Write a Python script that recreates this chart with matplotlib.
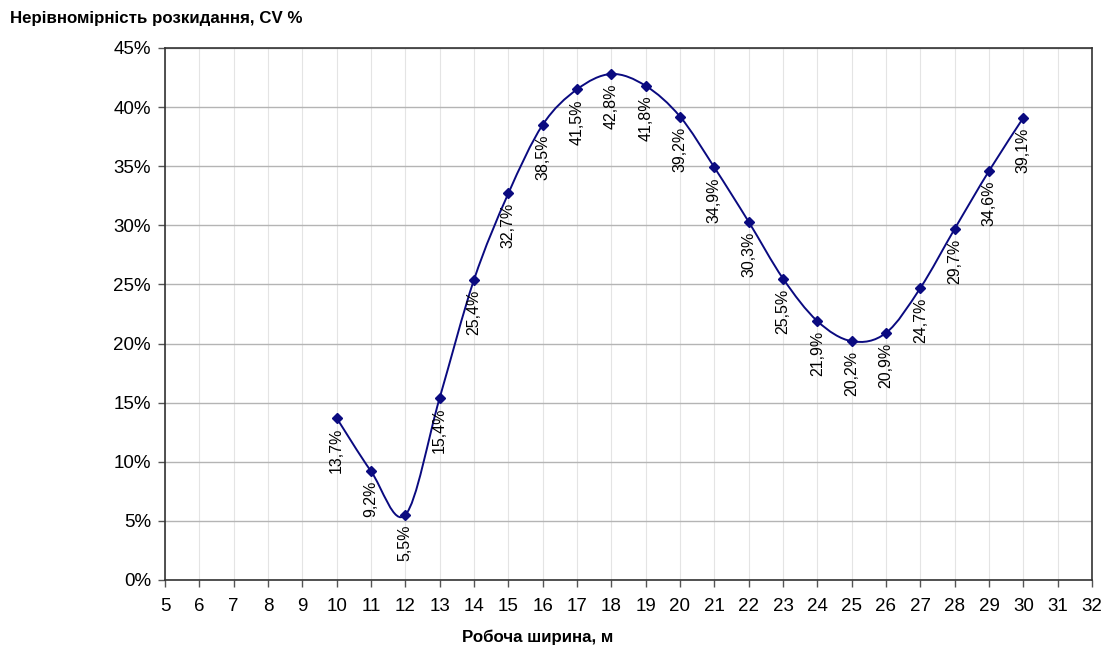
import numpy as np
import matplotlib.pyplot as plt
from matplotlib.path import Path
from matplotlib.patches import PathPatch
from matplotlib.ticker import MultipleLocator, FuncFormatter

plt.rcParams['font.family'] = ['Liberation Sans', 'DejaVu Sans']

# Робоча ширина (м) та коефіцієнт варіації (%)
width_m = [10, 11, 12, 13, 14, 15, 16, 17, 18, 19, 20,
           21, 22, 23, 24, 25, 26, 27, 28, 29, 30]
cv_pct = [13.7, 9.2, 5.5, 15.4, 25.4, 32.7, 38.5, 41.5, 42.8, 41.8, 39.2,
          34.9, 30.3, 25.5, 21.9, 20.2, 20.9, 24.7, 29.7, 34.6, 39.1]

x = np.array(width_m, dtype=float)
y = np.array(cv_pct) / 100.0

navy = '#0a0a80'

fig = plt.figure(figsize=(11.12, 6.5), dpi=100)
ax = fig.add_axes([165 / 1112, 70 / 650, (1092 - 165) / 1112, (580 - 48) / 650])

# smoothed line like Excel: Bezier segments through the points
pts = np.column_stack([x, y])
ext = np.vstack([pts[0], pts, pts[-1]])
verts = [tuple(pts[0])]
codes = [Path.MOVETO]
for i in range(len(pts) - 1):
    p0, p1, p2, p3 = ext[i], ext[i + 1], ext[i + 2], ext[i + 3]
    c1 = p1 + (p2 - p0) / 6.0
    c2 = p2 - (p3 - p1) / 6.0
    verts += [tuple(c1), tuple(c2), tuple(p2)]
    codes += [Path.CURVE4] * 3
ax.add_patch(PathPatch(Path(verts, codes), facecolor='none', edgecolor=navy,
                       lw=1.4, zorder=3))
ax.plot(x, y, ls='none', marker='D', ms=5, color=navy, zorder=4)

for xi, yi, v in zip(x, y, cv_pct):
    lbl = f'{v:.1f}%'.replace('.', ',')
    ax.annotate(lbl, (xi, yi), xytext=(0, -7), textcoords='offset points',
                rotation=90, ha='center', va='top', fontsize=11.5, color='black',
                zorder=5)

ax.set_xlim(5, 32)
ax.set_ylim(0, 0.45)
ax.xaxis.set_major_locator(MultipleLocator(1))
ax.yaxis.set_major_locator(MultipleLocator(0.05))
ax.yaxis.set_major_formatter(FuncFormatter(lambda v, p: f'{v * 100:.0f}%'))

ax.grid(axis='y', color='#b4b4b4', lw=1.0, zorder=0)
ax.grid(axis='x', color='#e4e4e4', lw=0.8, zorder=0)
ax.set_axisbelow(True)

for s in ax.spines.values():
    s.set_color('#333333')
    s.set_linewidth(1.2)

ax.tick_params(axis='both', direction='out', length=5, width=1,
               color='#555555', labelsize=13.5)
ax.tick_params(axis='x', pad=8)
ax.tick_params(axis='y', pad=5)

fig.text(10 / 1112, 1 - 18 / 650, 'Нерівномірність розкидання, CV %',
         fontsize=12.2, fontweight='bold', ha='left', va='center')
fig.text(538 / 1112, 1 - 637 / 650, 'Робоча ширина, м',
         fontsize=12.2, fontweight='bold', ha='center', va='center')

fig.savefig('out.png', dpi=100)
